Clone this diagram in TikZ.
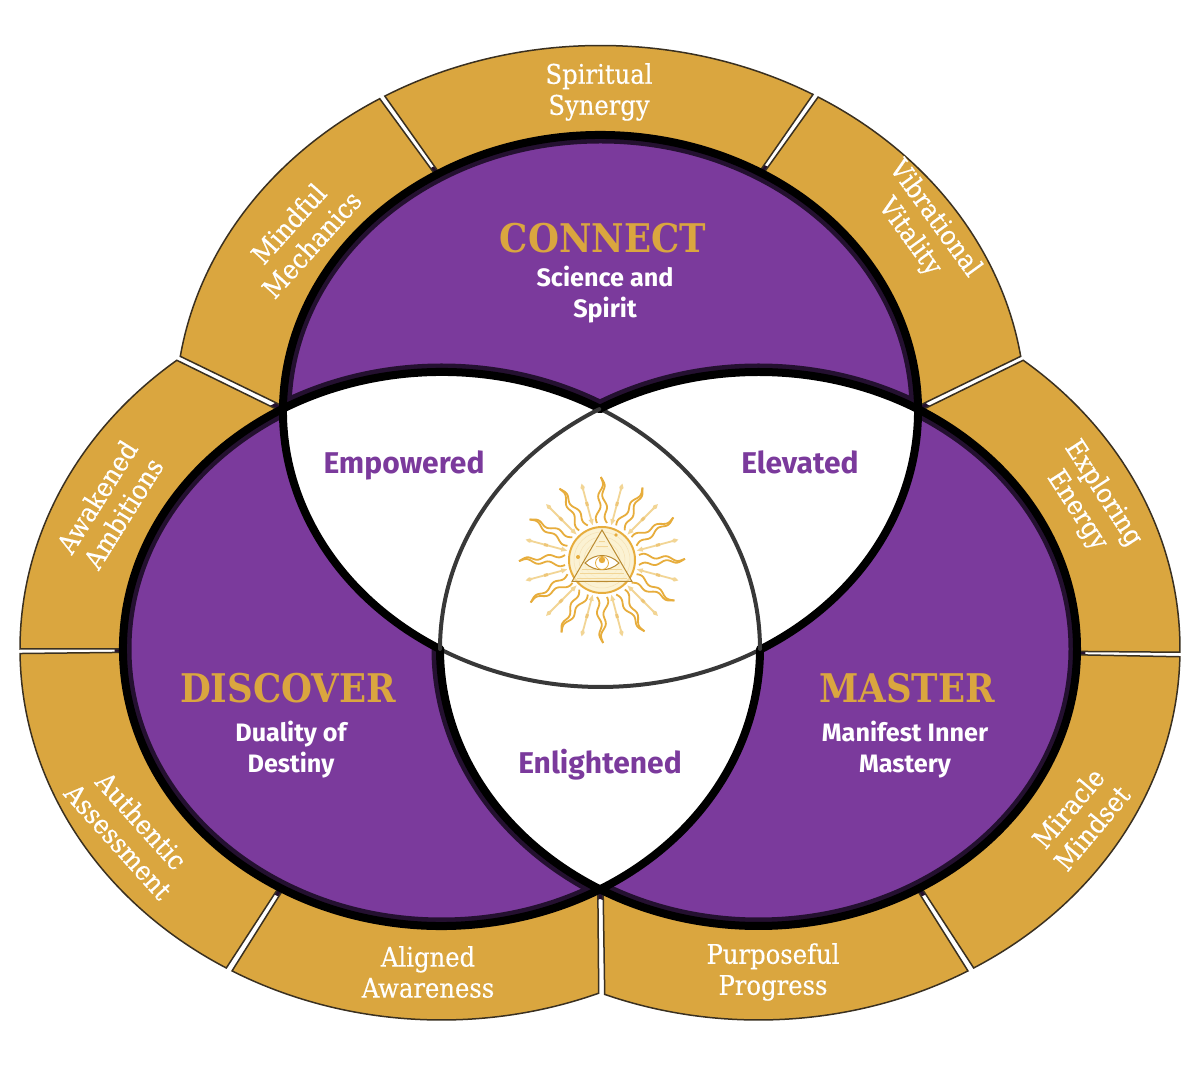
\documentclass[tikz,border=0pt]{standalone}
\usepackage{fontspec}
\setmainfont{DejaVu Serif}
\newfontfamily\labelsans{Fira Sans}
\newfontfamily\ringserif[FakeBold=0.35]{DejaVu Serif Condensed}
\newfontfamily\headserif{DejaVu Serif Condensed}
\definecolor{ringgold}{HTML}{DAA63F}
\definecolor{deeppurple}{HTML}{7B3A9C}
\definecolor{darkband}{HTML}{241030}
\definecolor{ringedge}{HTML}{3A3020}
\definecolor{sunline}{HTML}{E7AD3C}
\definecolor{sunpale}{HTML}{F2D595}
\definecolor{sundisc}{HTML}{FBF2D3}
\newcommand{\ringseg}[6]{%
 \path[ringpiece] ({#1+#2*cos(#3)},{\ringcy+\ringryo*sin(#3)})
   arc[start angle=#3,end angle=#4,x radius=#2 pt,y radius=\ringryo pt]
   -- ({#1+\ringrxi*cos(#6)},{\ringcy+\ringryi*sin(#6)})
   arc[start angle=#6,end angle=#5,x radius=\ringrxi pt,y radius=\ringryi pt]
   -- cycle;}
\newcommand{\thick}[5]{\draw[#5] ({#1+\elrx*cos(#3)},{#2+\elry*sin(#3)}) arc[start angle=#3,end angle=#4,x radius=\elrx pt,y radius=\elry pt];}
\tikzset{
 ringpiece/.style={fill=ringgold,draw=ringedge,line width=1.5pt,line join=miter},
 blackband/.style={draw=black,line width=8pt,line cap=round},
 thinband/.style={draw=black!78,line width=4pt,line cap=round},
 ringtext/.style={text=white,align=center,font=\ringserif\fontsize{27}{31}\selectfont,inner sep=0pt},
 headtext/.style={text=ringgold,font=\headserif\bfseries\fontsize{39.5}{42}\selectfont,inner sep=0pt},
 subtext/.style={text=white,align=center,font=\labelsans\bfseries\fontsize{25.2}{31}\selectfont,inner sep=0pt},
 zonetext/.style={text=deeppurple,font=\labelsans\bfseries\fontsize{30}{32}\selectfont,inner sep=0pt},
}
\begin{document}
\begin{tikzpicture}[x=1pt,y=1pt]
\useasboundingbox (0,0) rectangle (1200,1077);
\fill[white] (0,0) rectangle (1200,1077);
\foreach \cx/\cy/\rx/\ry in {600.5/666/317.5/276,441.5/428/318.5/277,758.5/428/318.5/277}{
 \fill[deeppurple] (\cx,\cy) ellipse[x radius=\rx pt,y radius=\ry pt];
 \draw[darkband,line width=17pt] (\cx,\cy) ellipse[x radius=\rx pt,y radius=\ry pt];
}
\begin{scope}
 \clip (600.5,666) ellipse[x radius=317.5pt,y radius=276pt];
 \fill[white] (441.5,428) ellipse[x radius=318.5pt,y radius=277pt];
 \fill[white] (758.5,428) ellipse[x radius=318.5pt,y radius=277pt];
\end{scope}
\begin{scope}
 \clip (441.5,428) ellipse[x radius=318.5pt,y radius=277pt];
 \fill[white] (758.5,428) ellipse[x radius=318.5pt,y radius=277pt];
\end{scope}
% ring: top
\def\ringcy{666}\def\ringryo{365.5}\def\ringrxi{317.5}\def\ringryi{276}
\ringseg{600.5}{425}{171.4}{121.3}{179}{121.3}
\ringseg{600.5}{425}{120.5}{60}{120.5}{60}
\ringseg{600.5}{425}{59.2}{8.6}{59.2}{1}
% ring: left
\def\ringcy{428}\def\ringryo{371}\def\ringrxi{318.5}\def\ringryi{277}
\ringseg{441.5}{421.5}{128.9}{180}{120.6}{180}
\ringseg{441.5}{421.5}{180.7}{239.3}{180.7}{239.3}
\ringseg{441.5}{421.5}{240.2}{291.9}{240.2}{299.4}
% ring: right
\def\ringcy{428}
\ringseg{758.5}{421.5}{51.1}{-0.5}{59.4}{-0.5}
\ringseg{758.5}{421.5}{-1.2}{-59.3}{-1.2}{-59.3}
\ringseg{758.5}{421.5}{-60.2}{-111.4}{-60.2}{-119.2}
% ellipse lines
\def\elrx{317.5}\def\elry{276}
\thick{600.5}{666}{-59.7}{239.7}{blackband}
\thick{600.5}{666}{239.7}{300.3}{thinband}
\def\elrx{318.5}\def\elry{277}
\thick{441.5}{428}{60}{360}{blackband}
\thick{441.5}{428}{0}{60}{thinband}
\thick{758.5}{428}{-180}{120}{blackband}
\thick{758.5}{428}{120}{180}{thinband}
% sun
\begin{scope}[shift={(602,517)}]
 \foreach \a in {0,30,...,330}{
  \begin{scope}[rotate=\a]
   \draw[sunline,line width=1.8pt,line join=round] plot[smooth,domain=0:1,samples=25,variable=\s] ({37+46*\s},{5*(1-\s)+1.8*sin(\s*760)});
   \draw[sunline,line width=1.8pt,line join=round] plot[smooth,domain=0:1,samples=25,variable=\s] ({37+46*\s},{-5*(1-\s)+1.8*sin(\s*760)});
  \end{scope}
 }
 \foreach \a in {15,45,...,345}{
  \begin{scope}[rotate=\a]
   \draw[sunpale,line width=1.8pt] (40,0) -- (76,0);
   \fill[sunpale] (36,0) -- (42,2.6) -- (42,-2.6) -- cycle;
   \fill[sunpale] (79,0) -- (75,2.2) -- (71,0) -- (75,-2.2) -- cycle;
   \fill[sunline!70!white] (56,1.5) rectangle (60,-1.5);
  \end{scope}
 }
 \fill[sundisc] (0,0) circle[radius=32pt];
 \foreach \r in {13,18,23,28}{\draw[sunpale!70!white,line width=0.5pt] (0,0) circle[radius=\r pt];}
 \draw[sunline,line width=2pt] (0,0) circle[radius=33pt];
 \draw[sunline!80!black,line width=1pt,fill=sundisc,fill opacity=0.7] (0,30) -- (-30,-21.5) -- (30,-21.5) -- cycle;
 \foreach \yy in {-18,-13.5,-9,14,19}{\draw[sunpale,line width=0.6pt] ({-(30-\yy)*0.58+3},\yy) -- ({(30-\yy)*0.58-3},\yy);}
 \draw[sunline!80!black,line width=1pt,fill=white] (-17,-3) .. controls (-7,7) and (7,7) .. (17,-3) .. controls (7,-12) and (-7,-12) .. (-17,-3) -- cycle;
 \draw[sunline,line width=0.8pt] (0,-3) circle[radius=6.5pt];
 \fill[sunline] (0,0) circle[radius=3.2pt];
 \fill[sunline] (-24,3) circle[radius=2pt];
 \fill[sunline] (14,25) circle[radius=1.8pt];
\end{scope}
% texts
\node[ringtext] (spiritual) at (599,985) {Spiritual\\Synergy};
\node[ringtext,rotate=48] (mindful) at (300,843) {Mindful\\Mechanics};
\node[ringtext,rotate=-54] (vibrational) at (922,849) {Vibrational\\Vitality};
\node[ringtext,rotate=-57] (exploring) at (1090,575) {Exploring\\Energy};
\node[ringtext,rotate=58] (awakened) at (110,572) {Awakened\\Ambitions};
\node[ringtext,rotate=-48] (authentic) at (130,246) {Authentic\\Assessment};
\node[ringtext,rotate=50] (miracle) at (1080,259) {Miracle\\Mindset};
\node[ringtext] (aligned) at (428,105) {Aligned\\Awareness};
\node[ringtext] (purposeful) at (773,105) {Purposeful\\Progress};
\node[headtext] (connect) at (603,839) {CONNECT};
\node[headtext] (discover) at (288,389) {DISCOVER};
\node[headtext] (master) at (907,389) {MASTER};
\node[subtext] (science) at (605,782) {Science and\\Spirit};
\node[subtext] (duality) at (291,327) {Duality of\\Destiny};
\node[subtext] (manifest) at (905,327) {Manifest Inner\\Mastery};
\node[zonetext] (empowered) at (404,612) {Empowered};
\node[zonetext] (elevated) at (800,615) {Elevated};
\node[zonetext] (enlightened) at (600,312) {Enlightened};
\end{tikzpicture}
\end{document}
